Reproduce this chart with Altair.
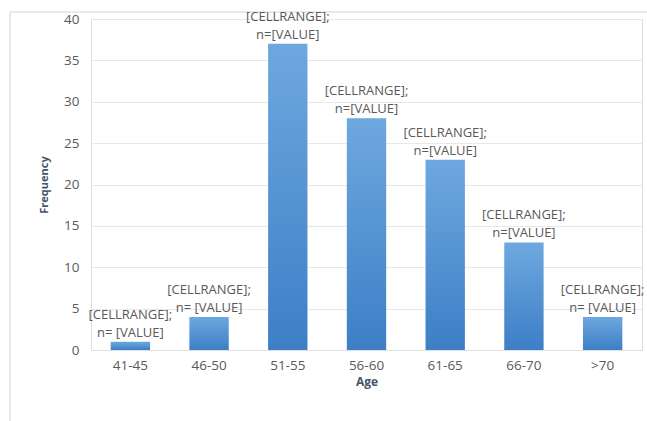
import altair as alt
import pandas as pd

# Age groups and their frequencies
age_groups = ["41-45", "46-50", "51-55", "56-60", "61-65", "66-70", ">70"]
frequency = [1, 4, 37, 28, 23, 13, 4]
label_line1 = ["[CELLRANGE];"] * 7
label_line2 = ["n= [VALUE]", "n= [VALUE]", "n=[VALUE]", "n=[VALUE]",
               "n=[VALUE]", "n=[VALUE]", "n= [VALUE]"]

df = pd.DataFrame({
    "age": age_groups,
    "freq": frequency,
    "line1": label_line1,
    "line2": label_line2,
})

FONT = "Open Sans"
GREY = "#595959"
FS = 13

x_enc = alt.X("age:N", sort=age_groups, title="Age",
              scale=alt.Scale(paddingInner=0.5, paddingOuter=0.25),
              axis=alt.Axis(labelAngle=0, labelFont=FONT, labelFontSize=13.5,
                            labelColor=GREY, labelPadding=8, ticks=False,
                            domain=True, domainColor="#e0e0e0",
                            titleFont=FONT, titleFontSize=12, titleFontWeight="bold",
                            titleColor="#44546a", titlePadding=5))
y_enc = alt.Y("freq:Q", title="Frequency",
              scale=alt.Scale(domain=[0, 40], nice=False),
              axis=alt.Axis(values=list(range(0, 41, 5)), labelFont=FONT,
                            labelFontSize=13.5, labelColor=GREY, labelPadding=12,
                            ticks=False, domain=False, grid=True,
                            gridColor="#e8e8e8", titleFont=FONT, titleFontSize=11,
                            titleFontWeight="bold", titleColor="#44546a",
                            titlePadding=14))

bars = alt.Chart(df).mark_bar(
    color=alt.Gradient(
        gradient="linear", x1=0, y1=0, x2=0, y2=1,
        stops=[alt.GradientStop(color="#6ea8df", offset=0),
               alt.GradientStop(color="#3d7ec6", offset=1)],
    )
).encode(x=x_enc, y=y_enc)

# Two-line data labels above each bar
text_base = alt.Chart(df).encode(x=alt.X("age:N", sort=age_groups), y="freq:Q")
lower = text_base.mark_text(
    font=FONT, fontSize=FS, color=GREY, baseline="alphabetic", dy=-5
).encode(text="line2:N")
upper = text_base.mark_text(
    font=FONT, fontSize=FS, color=GREY, baseline="alphabetic", dy=-23
).encode(text="line1:N")

# Outer chart frame (left and top edges)
frame = alt.Chart(pd.DataFrame({"k": [0]})).mark_rule(
    color="#dde3ec", strokeWidth=1.5
)
frame_left = frame.encode(x=alt.value(-81), y=alt.value(-7), y2=alt.value(402))
frame_top = frame.encode(x=alt.value(-81), x2=alt.value(556), y=alt.value(-7))

chart = (frame_left + frame_top + bars + lower + upper).properties(
    width=551, height=331,
    autosize=alt.AutoSizeParams(type="none"),
    padding={"left": 91, "top": 19, "right": 5, "bottom": 71},
).configure_view(stroke=None).configure(background="white")

chart.save("out.html", embed_options={"renderer": "svg", "actions": False})
